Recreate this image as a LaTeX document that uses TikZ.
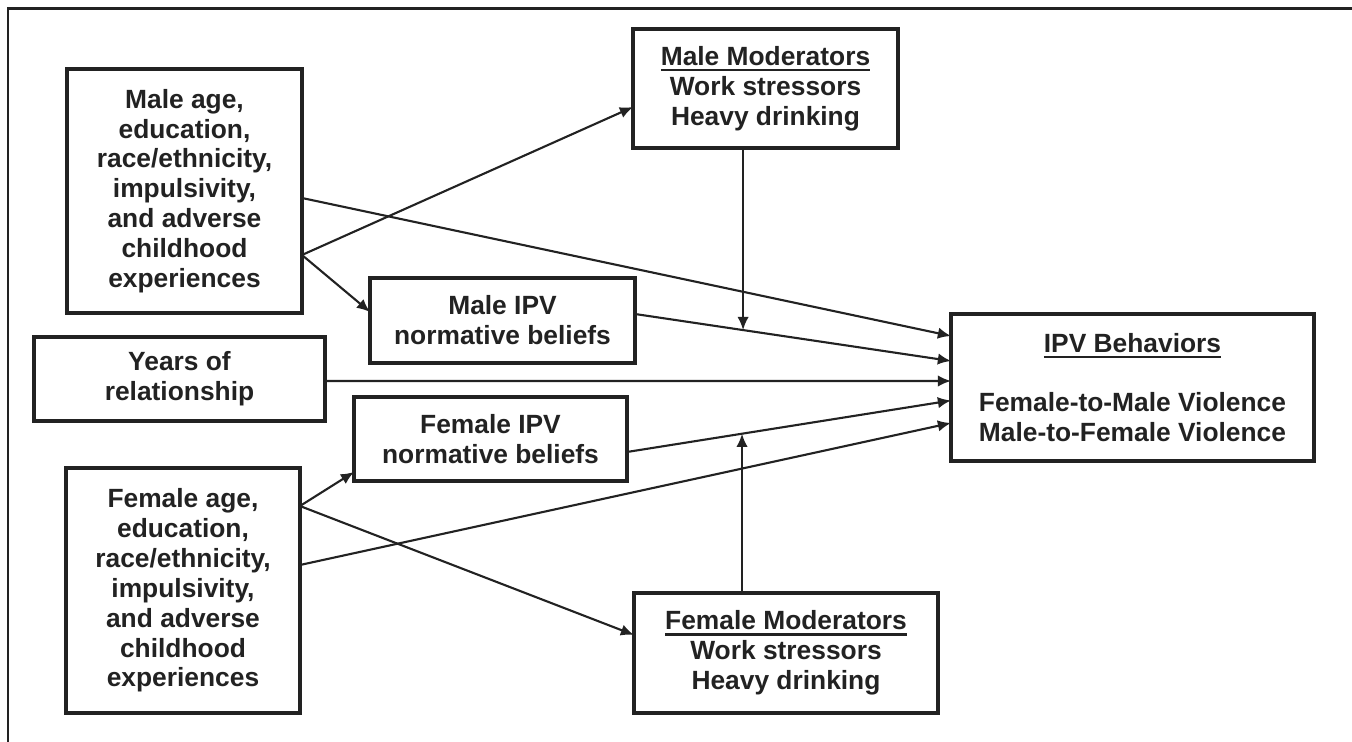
\documentclass[tikz,border=0pt]{standalone}
\usepackage{fontspec}
\setmainfont{Liberation Sans}
\usetikzlibrary{arrows.meta}
\definecolor{ink}{HTML}{222222}
\newcommand{\heading}[1]{\setbox0\hbox{#1}\rlap{\rule[-3.2pt]{\wd0}{1.2pt}}\box0}

\begin{document}
\begin{tikzpicture}[x=0.02cm, y=-0.02cm,
        box/.style={draw=ink, line width=1.8pt, text=ink, align=center, inner sep=2pt, outer sep=0pt,
            font=\bfseries\fontsize{15}{17}\selectfont},
        link/.style={draw=ink, line width=1.2pt, -{Latex[length=7.5pt,width=6.5pt]}},
        frame/.style={draw=ink, line width=1.7pt}]
                \useasboundingbox (0,0) rectangle (1352,742);
                \draw[frame] (8,742) -- (8,9) -- (1352,9);
                \node[box, minimum width=4.7cm, minimum height=4.88cm] (maledemo) at (184.5,191) {Male age,\\education,\\race/ethnicity,\\impulsivity,\\and adverse\\childhood\\experiences};
                \node[box, minimum width=5.3cm, minimum height=2.38cm] (malemod) at (765.5,88.5) {\heading{Male Moderators}\\Work stressors\\Heavy drinking};
                \node[box, minimum width=5.3cm, minimum height=1.7cm] (maleipv) at (502.5,320.5) {Male IPV\\normative beliefs};
                \node[box, minimum width=5.82cm, minimum height=1.68cm] (years) at (179.5,379) {Years of\\relationship};
                \node[box, minimum width=5.46cm, minimum height=1.68cm] (femaleipv) at (490.5,439) {Female IPV\\normative beliefs};
                \node[box, minimum width=4.68cm, minimum height=4.9cm] (femaledemo) at (183,590.5) {Female age,\\education,\\race/ethnicity,\\impulsivity,\\and adverse\\childhood\\experiences};
                \node[box, minimum width=6.08cm, minimum height=2.4cm] (femalemod) at (786,653) {\heading{Female Moderators}\\Work stressors\\Heavy drinking};
                \node[box, minimum width=7.26cm, minimum height=2.94cm] (ipv) at (1132.5,387.5) {\heading{IPV Behaviors}\\[17pt]Female-to-Male Violence\\Male-to-Female Violence};
                \draw[link] ([yshift=-1.28cm]maledemo.east) -- ([yshift=-0.37cm]malemod.west);
                \draw[link] ([yshift=-1.28cm]maledemo.east) -- ([yshift=0.17cm]maleipv.west);
                \draw[link] ([yshift=-0.14cm]maledemo.east) -- ([yshift=1.03cm]ipv.west);
                \draw[link] ([yshift=0.13cm]maleipv.east) -- coordinate[pos=0.342] (mhit) ([yshift=0.53cm]ipv.west);
                \draw[link] ([yshift=-0.04cm]years.east) -- ([yshift=0.13cm]ipv.west);
                \draw[link] ([yshift=-0.26cm]femaleipv.east) -- coordinate[pos=0.355] (fhit) ([yshift=-0.26cm]ipv.west);
                \draw[link] ([yshift=0.51cm]femaledemo.east) -- ([yshift=-0.71cm]ipv.west);
                \draw[link] ([yshift=1.69cm]femaledemo.east) -- ([yshift=-0.66cm]femaleipv.west);
                \draw[link] ([yshift=1.69cm]femaledemo.east) -- ([yshift=0.36cm]femalemod.west);
                \draw[link] (mhit |- malemod.south) -- (mhit);
                \draw[link] (fhit |- femalemod.north) -- (fhit);
            \end{tikzpicture}
\end{document}
